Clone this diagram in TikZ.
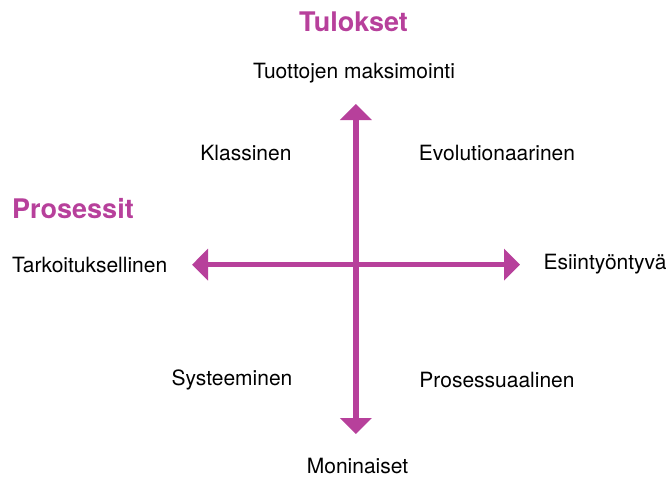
\documentclass[tikz,border=0pt]{standalone}
\usepackage{fontspec}
\setmainfont{TeX Gyre Heros}
\usetikzlibrary{arrows.meta}
\definecolor{axis}{RGB}{183,64,155}
\tikzset{
	lbl/.style={font=\fontsize{21}{24}\selectfont, inner sep=0pt},
	ttl/.style={font=\fontsize{27}{30}\selectfont\bfseries, text=axis, inner sep=0pt},
	ax/.style={draw=axis, line width=5.5pt, -{Triangle[length=16pt,width=31pt]}}
}
\begin{document}
\begin{tikzpicture}[x=1pt,y=-1pt]
	\useasboundingbox (0,0) rectangle (668,477);
	%%% titles
	\node[ttl](tul) at (353.5,22) {Tulokset};
	\node[ttl, anchor=west](pro) at (12,209) {Prosessit};
	%%% axis ends
	\node[lbl](top) at (354,73) {Tuottojen maksimointi};
	\node[lbl](bot) at (357.5,466) {Moninaiset};
	\node[lbl, anchor=west](lft) at (12,264.5) {Tarkoituksellinen};
	\node[lbl](rgt) at (605,264.5) {Esiintyöntyvä};
	%%% quadrants
	\node[lbl](kla) at (246,153) {Klassinen};
	\node[lbl](evo) at (497,153) {Evolutionaarinen};
	\node[lbl](sys) at (232,380) {Systeeminen};
	\node[lbl](prs) at (497,380) {Prosessuaalinen};
	%%% arrows
	\coordinate (c) at (355.8,264.7);
	\coordinate (n) at (355.8,104);
	\coordinate (s) at (355.8,434);
	\coordinate (w) at (192,264.7);
	\coordinate (e) at (520,264.7);
	\draw[ax] (c) -- (n);
	\draw[ax] (c) -- (s);
	\draw[ax] (c) -- (w);
	\draw[ax] (c) -- (e);
\end{tikzpicture}
\end{document}
